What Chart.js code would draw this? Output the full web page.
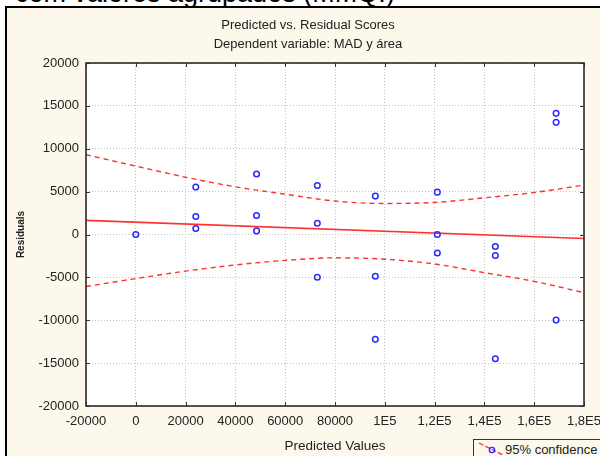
<!DOCTYPE html>
<html>
<head>
<meta charset="utf-8">
<script src="https://cdn.jsdelivr.net/npm/chart.js@4.4.1/dist/chart.umd.min.js"></script>
<style>
  html, body { margin: 0; padding: 0; background: #ffffff; width: 600px; height: 456px; overflow: hidden; }
  #heading {
    position: absolute; left: 15px; top: -22px; line-height: 27px;
    font: 27px "Liberation Sans", Arial, sans-serif; color: #000; white-space: nowrap;
  }
  #frame {
    position: absolute; left: 5px; top: 6px; width: 640px; height: 480px;
    border-left: 2px solid #000; border-top: 2px solid #000; background: #fdf8ec;
  }
  #wrap { position: absolute; left: 0; top: 0; width: 600px; height: 456px; }
  #legend {
    position: absolute; left: 473px; top: 439px; width: 200px; height: 40px;
    border: 1px solid #333; background: #fdf8ec; box-sizing: border-box;
    font: 13px "Liberation Sans", Arial, sans-serif; color: #222; white-space: nowrap;
  }
  #legend svg { position: absolute; left: 3px; top: 1px; }
  #legend span { position: absolute; left: 31px; top: 2px; line-height: 16px; }
</style>
</head>
<body>
<div id="heading">com valores agrupados (MMQ.)</div>
<div id="frame"></div>
<div id="wrap"><canvas id="chart" width="600" height="456"></canvas></div>
<div id="legend">
  <svg width="28" height="16" viewBox="0 0 28 16">
    <line x1="2" y1="2" x2="26" y2="14" stroke="#ff3030" stroke-width="1.3" stroke-dasharray="5 2"/>
    <circle cx="15" cy="9" r="2.6" fill="none" stroke="#2a2aff" stroke-width="1.4"/>
  </svg>
  <span>95% confidence</span>
</div>
<script>
// Predicted values and their residuals (three cases per predicted level, one at zero)
const predicted = [0,
  24100, 24100, 24100,
  48500, 48500, 48500,
  72900, 72900, 72900,
  96200, 96200, 96200,
  121100, 121100, 121100,
  144400, 144400, 144400,
  168800, 168800, 168800];
const residuals = [0,
  5530, 2100, 700,
  7050, 2220, 420,
  5720, 1320, -4990,
  4480, -4870, -12230,
  4940, 0, -2150,
  -1400, -2450, -14490,
  14130, 13080, -9980];

// Fitted line of residuals on predicted values
const fitX = [-20000, 180000];
const fitY = [1650, -470];

// 95% confidence band, sampled along the predicted axis
const bandX = [-20000, 0, 20000, 40000, 60000, 80000, 100000, 120000, 140000, 160000, 180000];
const bandUpper = [9300, 7980, 6680, 5560, 4700, 3900, 3620, 3740, 4280, 4900, 5760];
const bandLower = [-6070, -5140, -4270, -3550, -3020, -2720, -2880, -3440, -4450, -5470, -6780];

// Axis ticks
const xTickValues = [-20000, 0, 20000, 40000, 60000, 80000, 100000, 120000, 140000, 160000, 180000];
const xTickLabels = ['-20000', '0', '20000', '40000', '60000', '80000', '1E5', '1,2E5', '1,4E5', '1,6E5', '1,8E5'];
const yTickValues = [-20000, -15000, -10000, -5000, 0, 5000, 10000, 15000, 20000];
const yTickLabels = ['-20000', '-15000', '-10000', '-5000', '0', '5000', '10000', '15000', '20000'];

const zip = (xs, ys) => xs.map((x, i) => ({ x: x, y: ys[i] }));
const FONT = '"Liberation Sans", Arial, sans-serif';
const RED = '#ff3030';

// White plot area, outer box and inward tick marks
const plotFrame = {
  id: 'plotFrame',
  beforeDraw(chart) {
    const { ctx, chartArea: a } = chart;
    ctx.save();
    ctx.fillStyle = '#ffffff';
    ctx.fillRect(a.left, a.top, a.right - a.left, a.bottom - a.top);
    ctx.restore();
  },
  afterDraw(chart) {
    const { ctx, chartArea: a, scales } = chart;
    ctx.save();
    ctx.strokeStyle = '#333';
    ctx.lineWidth = 1;
    ctx.beginPath();
    xTickValues.forEach(v => {
      const px = Math.round(scales.x.getPixelForValue(v)) + 0.5;
      ctx.moveTo(px, a.bottom); ctx.lineTo(px, a.bottom - 4);
      ctx.moveTo(px, a.top); ctx.lineTo(px, a.top + 4);
    });
    yTickValues.forEach(v => {
      const py = Math.round(scales.y.getPixelForValue(v)) + 0.5;
      ctx.moveTo(a.left, py); ctx.lineTo(a.left + 4, py);
      ctx.moveTo(a.right, py); ctx.lineTo(a.right - 4, py);
    });
    ctx.stroke();
    ctx.lineWidth = 1.6;
    ctx.strokeStyle = '#2b2b2b';
    ctx.strokeRect(a.left, a.top, a.right - a.left, a.bottom - a.top);
    ctx.restore();
  }
};

new Chart(document.getElementById('chart'), {
  type: 'scatter',
  data: {
    datasets: [
      {
        label: 'Residuals',
        data: zip(predicted, residuals),
        showLine: false,
        pointStyle: 'circle',
        pointRadius: 2.8,
        pointBorderWidth: 1.5,
        pointBorderColor: '#2a2aff',
        pointBackgroundColor: 'rgba(0,0,0,0)'
      },
      {
        label: 'Fit',
        data: zip(fitX, fitY),
        showLine: true,
        borderColor: RED,
        borderWidth: 1.6,
        pointRadius: 0
      },
      {
        label: '95% confidence',
        data: zip(bandX, bandUpper),
        showLine: true,
        borderColor: RED,
        borderWidth: 1.4,
        borderDash: [5, 4],
        cubicInterpolationMode: 'monotone',
        pointRadius: 0
      },
      {
        label: '95% confidence (lower)',
        data: zip(bandX, bandLower),
        showLine: true,
        borderColor: RED,
        borderWidth: 1.4,
        borderDash: [5, 4],
        cubicInterpolationMode: 'monotone',
        pointRadius: 0
      }
    ]
  },
  options: {
    responsive: false,
    animation: false,
    layout: { padding: { left: 32, right: 16, top: 0, bottom: 0 } },
    plugins: {
      legend: { display: false },
      tooltip: { enabled: false },
      title: {
        display: true,
        text: 'Predicted vs. Residual Scores',
        color: '#222',
        font: { family: FONT, size: 13, weight: 'normal' },
        padding: { top: 17.2, bottom: 0 }
      },
      subtitle: {
        display: true,
        text: 'Dependent variable: MAD y área',
        color: '#222',
        font: { family: FONT, size: 13, weight: 'normal' },
        padding: { top: 3.4, bottom: 11.2 }
      }
    },
    scales: {
      x: {
        type: 'linear',
        min: -20000,
        max: 180000,
        afterFit(scale) {
          scale.height = 50;
          scale.paddingLeft = 0;
          scale.paddingRight = 0;
        },
        afterBuildTicks(scale) { scale.ticks = xTickValues.map(v => ({ value: v })); },
        ticks: {
          color: '#222',
          font: { family: FONT, size: 13 },
          padding: 8,
          maxRotation: 0,
          autoSkip: false,
          callback: (v) => xTickLabels[xTickValues.indexOf(v)]
        },
        grid: { color: '#c4c4c4', lineWidth: 1, drawTicks: false },
        border: { display: false, dash: [1, 2] },
        title: {
          display: true,
          text: 'Predicted Values',
          color: '#222',
          font: { family: FONT, size: 13.5 },
          padding: { top: 0, bottom: 1.4 }
        }
      },
      y: {
        type: 'linear',
        min: -20000,
        max: 20000,
        afterFit(scale) {
          scale.width = 54;
          scale.paddingTop = 0;
          scale.paddingBottom = 0;
        },
        afterBuildTicks(scale) { scale.ticks = yTickValues.map(v => ({ value: v })); },
        ticks: {
          color: '#222',
          font: { family: FONT, size: 13 },
          padding: 7,
          autoSkip: false,
          callback: (v) => yTickLabels[yTickValues.indexOf(v)]
        },
        grid: { color: '#c4c4c4', lineWidth: 1, drawTicks: false },
        border: { display: false, dash: [1, 2] },
        title: {
          display: true,
          text: 'Residuals',
          color: '#222',
          font: { family: FONT, size: 10, weight: 'bold' },
          padding: { top: -17, bottom: 0 }
        }
      }
    }
  },
  plugins: [plotFrame]
});
</script>
</body>
</html>
